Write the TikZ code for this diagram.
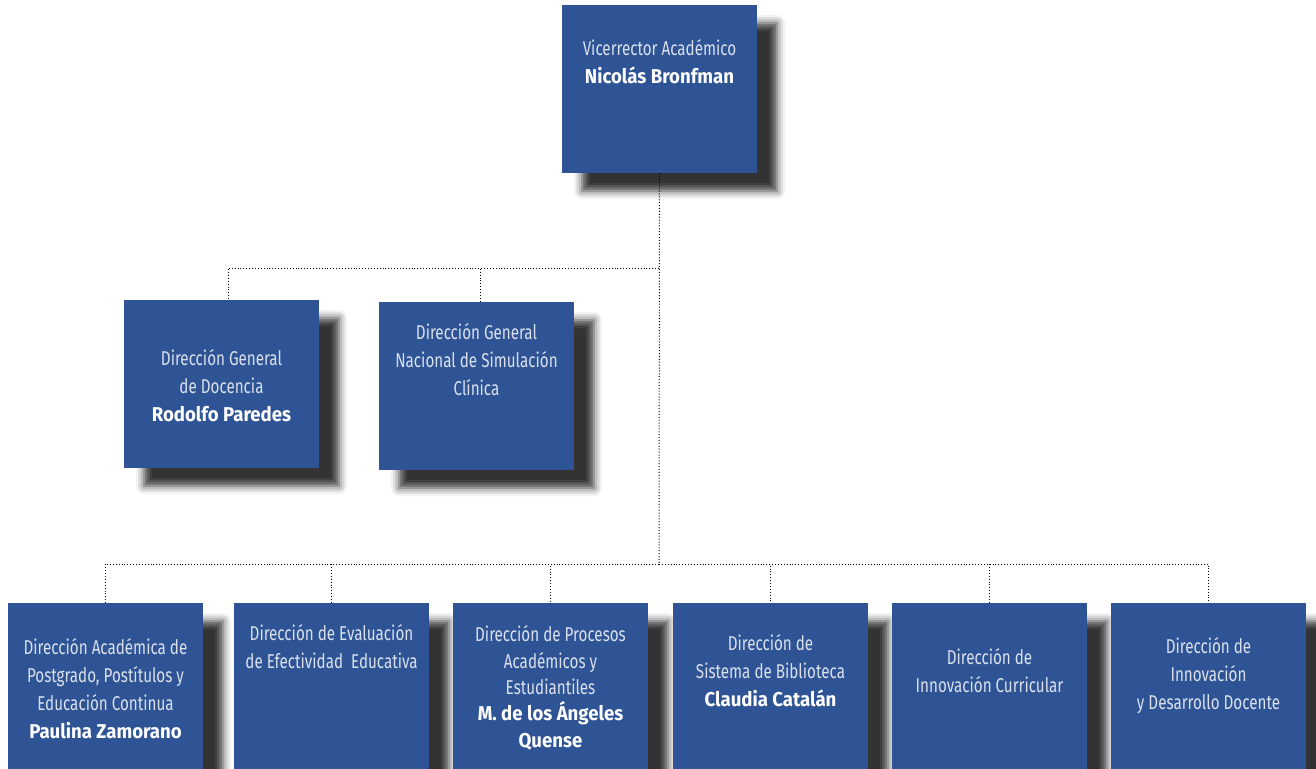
\documentclass[tikz,border=0pt]{standalone}
\usepackage{fontspec}
\setmainfont{Fira Sans}[FakeStretch=0.76]
\newfontfamily\namefont{Fira Sans}[FakeStretch=0.93]
\usetikzlibrary{positioning,shadows.blur}
\definecolor{boxblue}{RGB}{46,84,150}
\definecolor{txtgray}{RGB}{218,224,236}
\newcommand{\chief}[1]{\textcolor{white}{\namefont\bfseries #1}}
\tikzset{unit/.style={rectangle,fill=boxblue,minimum width=195pt,minimum height=168pt,inner sep=0pt,
  blur shadow={shadow xshift=20pt,shadow yshift=-18pt,shadow blur radius=8pt,shadow opacity=80}}}
\tikzset{title/.style={text=txtgray,align=center,anchor=base,inner sep=0pt,font=\fontsize{20}{27.7}\selectfont}}
\tikzset{link/.style={draw,line width=1pt,dash pattern=on 1pt off 1.9pt}}

\begin{document}
\begin{tikzpicture}[x=1pt,y=-1pt,node distance=219pt]
    \useasboundingbox (0,0) rectangle (1316,768);

    % boxes
    \node[unit] (vr) at (659.5,89) {};
    \node[unit] (dg1) at (221.5,384) {};
    \node[unit] (dg2) at (476.5,386) {};
    \node[unit] (da1) at (105.5,687) {};
    \node[unit,right of=da1,node distance=226pt] (da2) {};
    \node[unit,right of=da2] (da3) {};
    \node[unit,right of=da3,node distance=220pt] (da4) {};
    \node[unit,right of=da4] (da5) {};
    \node[unit,right of=da5] (da6) {};

    % texts (placed at the baseline of their last line)
    \node[title] (tvr) at (659.5,83) {Vicerrector Académico\\\chief{Nicolás Bronfman}};
    \node[title] (tdg1) at (221.5,421) {Dirección General\\de Docencia\\\chief{Rodolfo Paredes}};
    \node[title] (tdg2) at (476.5,395) {Dirección General\\Nacional de Simulación\\Clínica};
    \node[title] (tda1) at (105.5,738) {Dirección Académica de\\Postgrado, Postítulos y\\Educación Continua\\\chief{Paulina Zamorano}};
    \node[title] (tda2) at (331.5,668) {Dirección de Evaluación\\de Efectividad\ \ Educativa};
    \node[title,font=\fontsize{20}{26.3}\selectfont] (tda3) at (550.5,747) {Dirección de Procesos\\Académicos y\\Estudiantiles\\\chief{M. de los Ángeles}\\\chief{Quense}};
    \node[title] (tda4) at (770.5,706) {Dirección de\\Sistema de Biblioteca\\\chief{Claudia Catalán}};
    \node[title] (tda5) at (989.5,692) {Dirección de\\Innovación Curricular};
    \node[title] (tda6) at (1208.5,709) {Dirección de\\Innovación\\y Desarrollo Docente};

    % connectors
    \coordinate (j1) at (659,268);
    \coordinate (j2) at (659,564);
    \path[link] (vr.south) -- (j2);
    \path[link] (j1) -| ([xshift=6.5pt]dg1.north);
    \path[link] (j1) -| ([xshift=3.5pt]dg2.north);
    \foreach \d in {da1,da2,da3,da4,da5,da6}
        \path[link] (j2) -| (\d.north);
\end{tikzpicture}
\end{document}
